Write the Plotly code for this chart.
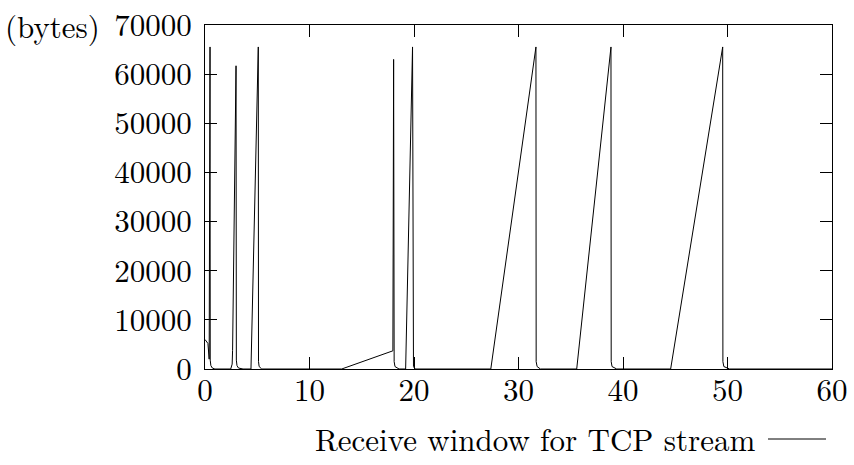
import plotly.graph_objects as go

# Receive window samples: time (s) and advertised window (bytes)
time_s = [
    0.0, 0.28, 0.40, 0.48, 0.50, 0.56, 0.70, 0.95,
    2.46, 2.60, 2.64, 2.97, 3.00, 3.06, 3.20, 3.64,
    4.40, 5.10, 5.12, 5.18, 5.43,
    13.08, 17.98, 18.05, 18.10, 18.18, 18.57,
    19.20, 19.86, 19.88, 19.95, 20.10,
    27.35, 31.67, 31.69, 31.78, 32.10,
    35.57, 38.85, 38.87, 38.95, 39.40,
    44.56, 49.54, 49.56, 49.65, 50.20,
    60.0,
]
window_bytes = [
    6000, 5200, 2000, 65535, 1800, 700, 200, 0,
    0, 1000, 3800, 61700, 1800, 700, 200, 0,
    0, 65535, 1500, 500, 0,
    0, 3700, 63000, 1500, 500, 0,
    0, 65535, 1500, 500, 0,
    0, 65535, 1500, 500, 0,
    0, 65535, 1500, 500, 0,
    0, 65535, 1500, 500, 0,
    0,
]

x_ticks = [0, 10, 20, 30, 40, 50, 60]
y_ticks = [0, 10000, 20000, 30000, 40000, 50000, 60000, 70000]

FONT = "Latin Modern Roman"
FS = 31
W, H = 854, 465
L, R, T, B = 205, 22, 25, 96
pw, ph = W - L - R, H - T - B

fig = go.Figure()
fig.add_trace(go.Scatter(
    x=time_s, y=window_bytes, mode="lines",
    line=dict(color="black", width=1),
    showlegend=False, hoverinfo="skip",
))

axis_common = dict(
    showline=True, linecolor="black", linewidth=1, mirror="allticks",
    ticks="inside", ticklen=12, tickcolor="black", tickwidth=1,
    showgrid=False, zeroline=False, automargin=False,
    tickfont=dict(family=FONT, size=FS, color="black"),
)
fig.update_xaxes(range=[0, 60], tickvals=x_ticks,
                 ticktext=[str(v) for v in x_ticks],
                 ticklabelstandoff=-6, **axis_common)
fig.update_yaxes(range=[0, 70000], tickvals=y_ticks,
                 ticktext=[str(v) for v in y_ticks],
                 ticklabelstandoff=6, **axis_common)

def px_x(p):
    return (p - L) / pw

def px_y(p):
    return (H - B - p) / ph

# unit label beside the top tick
fig.add_annotation(text="(bytes)", xref="paper", yref="paper",
                   x=px_x(52), y=1.0, xanchor="center", yanchor="middle",
                   showarrow=False, font=dict(family=FONT, size=FS, color="black"))

# key: caption followed by a line sample
fig.add_annotation(text="Receive window for TCP stream", xref="paper", yref="paper",
                   x=px_x(757), y=px_y(438), xanchor="right", yanchor="middle",
                   showarrow=False, font=dict(family=FONT, size=FS, color="black"))
fig.add_shape(type="line", xref="paper", yref="paper",
              x0=px_x(768), x1=px_x(826), y0=px_y(439), y1=px_y(439),
              line=dict(color="black", width=1))

fig.update_layout(
    width=W, height=H,
    margin=dict(l=L, r=R, t=T, b=B),
    paper_bgcolor="white", plot_bgcolor="white",
    font=dict(family=FONT, color="black"),
)

fig.write_html("out.html")
